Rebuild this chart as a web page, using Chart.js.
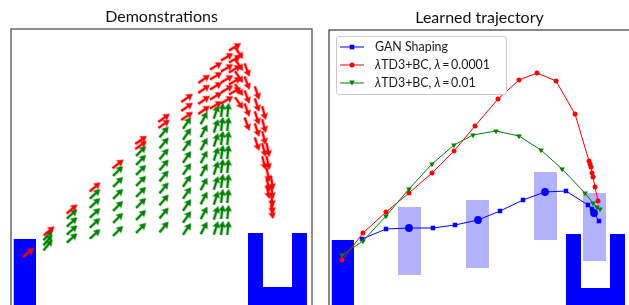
<!DOCTYPE html>
<html><head><meta charset="utf-8">
<script src="https://cdn.jsdelivr.net/npm/chart.js@4/dist/chart.umd.min.js"></script>
<style>
html,body{margin:0;padding:0;background:#fff;overflow:hidden;width:629px;height:305px;}
#wrap{position:relative;width:629px;height:305px;overflow:hidden;}
canvas{position:absolute;top:0;}
#c1{left:0;} #c2{left:320px;}
#legend{position:absolute;left:336px;top:36px;width:169px;height:57px;border:1px solid #ccc;border-radius:3px;background:rgba(255,255,255,0.8);font-family:Lato,sans-serif;font-size:12.4px;color:#1a1a1a;}
.row{position:absolute;left:0;height:18px;width:169px;}
.row svg{position:absolute;left:3px;top:4px;}
.row span{position:absolute;left:38px;top:1px;white-space:nowrap;line-height:16px;}
</style></head>
<body><div id="wrap">
<canvas id="c1" width="320" height="330"></canvas>
<canvas id="c2" width="320" height="330"></canvas>
<div id="legend">
 <div class="row" style="top:1px"><svg width="24" height="10"><line x1="0" y1="5" x2="24" y2="5" stroke="#0000ff" stroke-width="1"/><rect x="9.7" y="2.7" width="4.6" height="4.6" fill="#0000ff"/></svg><span>GAN Shaping</span></div>
 <div class="row" style="top:19px"><svg width="24" height="10"><line x1="0" y1="5" x2="24" y2="5" stroke="#ff0000" stroke-width="1"/><circle cx="12" cy="5" r="2.5" fill="#ff0000"/></svg><span><i>λ</i>TD3+BC, <i>λ</i>&thinsp;=&thinsp;0.0001</span></div>
 <div class="row" style="top:37px"><svg width="24" height="10"><line x1="0" y1="5" x2="24" y2="5" stroke="#008000" stroke-width="1"/><polygon points="9.2,2.6 14.8,2.6 12,7.6" fill="#008000"/></svg><span><i>λ</i>TD3+BC, <i>λ</i>&thinsp;=&thinsp;0.01</span></div>
</div>
</div>
<script>
// ---------------- data (environment units) ----------------
const xRange = [0, 30.1];
const yRange = [0, 29];

// obstacles
const startBlockX = [0.25, 2.5];
const startBlockTop = [8.0, 8.0];
const goalUX = [23.7, 25.2, 25.2, 28.1, 28.1, 29.6];
const goalUY = [8.6, 8.6, 3.2, 3.2, 8.6, 8.6];

// demonstrations (quiver): column x, arrow direction (deg), arrow y positions
const greenColX = [3.7, 6.1, 8.4, 10.7, 13.0, 15.3, 17.6, 19.3, 20.5, 21.1, 21.7];
const greenColAngle = [50, 42, 43, 45, 45, 50, 55, 62, 72, 82, 84];
const greenColY = [
  [8.4, 7.9, 7.4],
  [10.5, 9.7, 8.9, 8.1],
  [12.5, 11.6, 10.6, 9.6, 8.5],
  [14.8, 13.7, 12.5, 11.3, 10.1, 8.8],
  [16.8, 15.9, 14.9, 13.8, 12.7, 11.6, 10.4, 9.1],
  [18.7, 17.6, 16.5, 15.4, 14.3, 13.1, 11.9, 10.6, 9.2],
  [19.6, 18.5, 17.4, 16.2, 15.0, 13.8, 12.6, 11.4, 10.2, 9.0],
  [20.1, 18.8, 17.5, 16.2, 14.9, 13.5, 12.1, 10.6, 9.1],
  [20.7, 19.3, 17.9, 16.5, 15.1, 13.6, 12.1, 10.6, 9.1],
  [20.9, 19.5, 18.1, 16.7, 15.3, 13.8, 12.3, 10.7, 9.1],
  [20.9, 19.5, 18.1, 16.7, 15.3, 13.8, 12.3, 10.7, 9.1]
];
const redColX = [1.75, 3.8, 6.1, 8.4, 10.7, 13.0, 15.3, 17.6, 19.3, 20.5, 21.6, 22.4, 22.8, 23.6, 24.6, 25.3, 25.7, 26.1];
const redColAngle = [40, 40, 40, 40, 38, 35, 35, 35, 35, 30, 30, 30, -55, -70, -72, -75, -78, -82];
const redColY = [
  [6.65],
  [8.8],
  [11.0],
  [13.2],
  [15.5],
  [17.9, 17.4],
  [20.1, 19.5],
  [22.1, 21.2, 20.3],
  [24.0, 23.0, 21.9, 20.9],
  [25.3, 24.3, 23.3, 22.3, 21.4],
  [26.2, 25.1, 24.0, 23.0, 21.9],
  [27.2, 26.0, 25.0, 23.8, 22.8],
  [26.6, 25.4, 24.2, 22.9, 21.6],
  [24.9, 23.6, 22.2, 20.9, 19.5],
  [22.6, 21.4, 20.1, 18.9, 17.5],
  [20.6, 19.3, 18.1, 16.9, 15.6],
  [16.9, 15.6, 14.4, 13.4, 12.7],
  [13.6, 12.7, 11.9, 11.2, 10.7]
];

// learned trajectories
const ganX = [3.3, 5.7, 8.0, 10.4, 12.6, 14.9, 17.1, 19.4, 21.6, 23.7, 25.9, 26.3, 26.5, 27.0];
const ganY = [8.1, 9.1, 9.2, 9.2, 9.5, 10.0, 10.9, 12.0, 12.8, 12.9, 11.5, 11.1, 10.7, 9.9];
const subgoalX = [8.0, 14.9, 21.6, 26.5];
const subgoalY = [9.2, 10.0, 12.8, 10.7];
const td3aX = [1.3, 3.4, 5.7, 8.0, 10.3, 12.5, 14.6, 16.9, 19.0, 20.8, 22.7, 24.6, 26.0, 26.1, 26.2, 26.3, 26.4, 26.6, 26.9];
const td3aY = [6.0, 8.7, 10.8, 12.7, 14.7, 16.9, 19.4, 22.1, 24.0, 24.7, 23.9, 20.6, 15.9, 15.6, 15.3, 14.7, 14.3, 13.3, 11.9];
const td3bX = [1.3, 3.4, 5.7, 8.0, 10.3, 12.5, 14.4, 16.7, 19.0, 21.2, 23.3, 25.6, 26.4, 26.8, 27.1];
const td3bY = [6.5, 7.9, 10.4, 13.1, 15.6, 17.5, 18.5, 18.9, 18.4, 17.0, 15.1, 12.7, 11.7, 11.3, 11.1];
const rectX0 = [6.9, 13.7, 20.5, 25.4];
const rectX1 = [9.2, 16.0, 22.8, 27.7];
const rectTop = [11.3, 12.0, 14.8, 12.7];
const rectBottom = [4.5, 5.2, 8.0, 5.9];

// ---------------- helpers ----------------
const BLUE = '#0000ff', RED = '#ff0000', GREEN = '#008000';
function pts(xs, ys) { return xs.map((x, i) => ({x: x, y: ys[i]})); }
function quiver(colX, colAng, colY) {
  const data = [], rot = [];
  colX.forEach((x, i) => colY[i].forEach(y => { data.push({x: x, y: y}); rot.push(-colAng[i]); }));
  return {data, rot};
}
function makeArrow(color) {
  const c = document.createElement('canvas');
  c.width = 18; c.height = 18;
  const g = c.getContext('2d');
  g.fillStyle = color;
  g.beginPath();
  g.moveTo(2.0, 7.7); g.lineTo(10.2, 7.7); g.lineTo(9.4, 5.1); g.lineTo(16.2, 9);
  g.lineTo(9.4, 12.9); g.lineTo(10.2, 10.3); g.lineTo(2.0, 10.3);
  g.closePath(); g.fill();
  return c;
}
function envDatasets(order) {
  return [
    {data: pts(startBlockX, startBlockTop), fill: 'start', backgroundColor: BLUE, borderColor: 'rgba(0,0,0,0)', borderWidth: 0, pointRadius: 0, order: order},
    {data: pts(goalUX, goalUY), fill: 'start', backgroundColor: BLUE, borderColor: 'rgba(0,0,0,0)', borderWidth: 0, pointRadius: 0, order: order}
  ];
}
const framePlugin = {
  id: 'frame',
  afterDraw(chart, args, opts) {
    const a = chart.chartArea, ctx = chart.ctx;
    ctx.save();
    ctx.strokeStyle = opts.color; ctx.lineWidth = opts.width;
    ctx.strokeRect(a.left, a.top, a.right - a.left, a.bottom - a.top);
    ctx.restore();
  }
};
const scales = {
  x: {type: 'linear', min: xRange[0], max: xRange[1], display: false},
  y: {type: 'linear', min: yRange[0], max: yRange[1], display: false}
};
function titleOpts(text, top) {
  return {display: true, text: text, color: '#111', font: {family: 'Lato', size: 16, weight: 'normal', lineHeight: 1.15}, padding: {top: top, bottom: 3}};
}

// ---------------- left: demonstrations ----------------
const g = quiver(greenColX, greenColAngle, greenColY);
const r = quiver(redColX, redColAngle, redColY);
new Chart(document.getElementById('c1'), {
  type: 'line',
  data: {datasets: [
    ...envDatasets(5),
    {data: g.data, showLine: false, pointStyle: makeArrow(GREEN), pointRotation: g.rot, pointRadius: 3, order: 1},
    {data: r.data, showLine: false, pointStyle: makeArrow(RED), pointRotation: r.rot, pointRadius: 3, order: 0}
  ]},
  options: {
    responsive: false, animation: false, devicePixelRatio: 1, events: [],
    layout: {padding: {left: 11, right: 8, top: 0, bottom: 11}},
    scales: scales,
    plugins: {legend: {display: false}, tooltip: {enabled: false}, title: titleOpts('Demonstrations', 7.6), frame: {color: '#444', width: 1.2}}
  },
  plugins: [framePlugin]
});

// ---------------- right: learned trajectory ----------------
const rectSets = [];
rectX0.forEach((x0, i) => {
  rectSets.push({data: pts([x0, rectX1[i]], [rectTop[i], rectTop[i]]), fill: '+1', backgroundColor: 'rgba(0,0,255,0.3)', borderColor: 'rgba(0,0,0,0)', borderWidth: 0, pointRadius: 0, order: 10});
  rectSets.push({data: pts([x0, rectX1[i]], [rectBottom[i], rectBottom[i]]), fill: false, borderColor: 'rgba(0,0,0,0)', borderWidth: 0, pointRadius: 0, order: 10});
});
new Chart(document.getElementById('c2'), {
  type: 'line',
  data: {datasets: [
    ...rectSets,
    ...envDatasets(9),
    {label: 'GAN Shaping', data: pts(ganX, ganY), borderColor: BLUE, backgroundColor: BLUE, borderWidth: 1, pointStyle: 'rect', pointRadius: 3.2, pointBorderWidth: 0, order: 3},
    {data: pts(subgoalX, subgoalY), showLine: false, backgroundColor: BLUE, borderColor: BLUE, pointStyle: 'circle', pointRadius: 3.9, pointBorderWidth: 0, order: 2.5},
    {label: 'λTD3+BC, λ=0.0001', data: pts(td3aX, td3aY), borderColor: RED, backgroundColor: RED, borderWidth: 1, pointStyle: 'circle', pointRadius: 2.5, pointBorderWidth: 0, order: 2},
    {label: 'λTD3+BC, λ=0.01', data: pts(td3bX, td3bY), borderColor: GREEN, backgroundColor: GREEN, borderWidth: 1, pointStyle: 'triangle', pointRotation: 180, pointRadius: 3.2, pointBorderWidth: 0, order: 1}
  ]},
  options: {
    responsive: false, animation: false, devicePixelRatio: 1, events: [],
    layout: {padding: {left: 9, right: 10, top: 0, bottom: 10}},
    scales: scales,
    plugins: {legend: {display: false}, tooltip: {enabled: false}, title: titleOpts('Learned trajectory', 8.6), frame: {color: '#111', width: 1}}
  },
  plugins: [framePlugin]
});
</script>
</body></html>
